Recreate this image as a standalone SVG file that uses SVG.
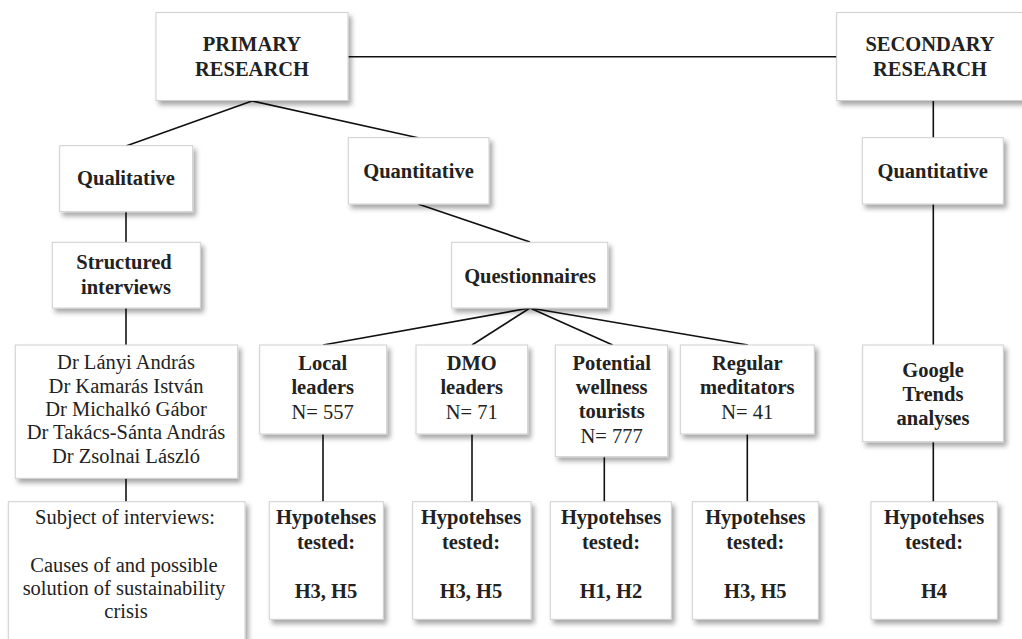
<svg xmlns="http://www.w3.org/2000/svg" width="1022" height="639" viewBox="0 0 1022 639" font-family="Liberation Serif, Times New Roman, serif">
<defs>
<filter id="sh" x="-10%" y="-10%" width="130%" height="140%">
<feDropShadow dx="3" dy="4" stdDeviation="2.5" flood-color="#000" flood-opacity="0.35"/>
</filter>
<style>
.box{fill:#fff;stroke:#cfcfcf;stroke-width:1;filter:url(#sh)}
text{font-size:20.5px;fill:#222;text-anchor:middle}
.b{font-weight:bold}
.c{stroke:#111;stroke-width:1.6;fill:none}
</style>
</defs>
<rect width="1022" height="639" fill="#fff"/>
<g id="connectors">
<line class="c" x1="348" y1="56.7" x2="837" y2="56.7"/>
<line class="c" x1="252" y1="101" x2="126" y2="146"/>
<line class="c" x1="252" y1="101" x2="419" y2="138"/>
<line class="c" x1="126" y1="212" x2="126" y2="242"/>
<line class="c" x1="126" y1="308" x2="126" y2="345"/>
<line class="c" x1="126" y1="478" x2="126" y2="502"/>
<line class="c" x1="418" y1="204" x2="530" y2="242"/>
<line class="c" x1="530" y1="308" x2="323" y2="345"/>
<line class="c" x1="530" y1="308" x2="472" y2="345"/>
<line class="c" x1="530" y1="308" x2="612.7" y2="345"/>
<line class="c" x1="530" y1="308" x2="748" y2="345"/>
<line class="c" x1="323" y1="434" x2="323" y2="502"/>
<line class="c" x1="472" y1="434" x2="472" y2="502"/>
<line class="c" x1="604.3" y1="456" x2="604.3" y2="502"/>
<line class="c" x1="747.3" y1="434" x2="747.3" y2="502"/>
<line class="c" x1="933.3" y1="101" x2="933.3" y2="138"/>
<line class="c" x1="933.3" y1="204" x2="933.3" y2="345"/>
<line class="c" x1="933.3" y1="441.7" x2="933.3" y2="502"/>
</g>
<g id="primary">
<rect class="box" x="156" y="12.5" width="192" height="88"/>
<text class="b" x="252" y="51">PRIMARY</text>
<text class="b" x="252" y="76">RESEARCH</text>
</g>
<g id="secondary">
<rect class="box" x="836.7" y="12.5" width="190" height="88"/>
<text class="b" x="930" y="51">SECONDARY</text>
<text class="b" x="930" y="76">RESEARCH</text>
</g>
<g id="qualitative">
<rect class="box" x="59.7" y="145.7" width="133" height="66"/>
<text class="b" x="126" y="185">Qualitative</text>
</g>
<g id="quantitative-primary">
<rect class="box" x="348.3" y="137.7" width="140.7" height="66.3"/>
<text class="b" x="418.5" y="178">Quantitative</text>
</g>
<g id="quantitative-secondary">
<rect class="box" x="862.3" y="137.7" width="141" height="66.3"/>
<text class="b" x="932.7" y="178">Quantitative</text>
</g>
<g id="structured-interviews">
<rect class="box" x="52.3" y="242.3" width="148" height="65.7"/>
<text class="b" x="124" y="269.3">Structured</text>
<text class="b" x="126" y="294.3">interviews</text>
</g>
<g id="questionnaires">
<rect class="box" x="451.7" y="242.3" width="156" height="65.7"/>
<text class="b" x="530" y="282.7">Questionnaires</text>
</g>
<g id="experts">
<rect class="box" x="15.3" y="345" width="222.4" height="133.3"/>
<text x="126" y="369.3">Dr Lányi András</text>
<text x="126" y="392.7">Dr Kamarás István</text>
<text x="126" y="416">Dr Michalkó Gábor</text>
<text x="126" y="439.3">Dr Takács-Sánta András</text>
<text x="126" y="462.7">Dr Zsolnai László</text>
</g>
<g id="subject">
<rect class="box" x="8.3" y="501.7" width="236.7" height="150"/>
<text x="125" y="524.3">Subject of interviews:</text>
<text x="124" y="571.7">Causes of and possible</text>
<text x="124" y="595">solution of sustainability</text>
<text x="126" y="618.3">crisis</text>
</g>
<g id="local-leaders">
<rect class="box" x="259.7" y="345" width="127" height="89"/>
<text class="b" x="322.7" y="370">Local</text>
<text class="b" x="322.7" y="394">leaders</text>
<text x="322.7" y="419.3">N= 557</text>
</g>
<g id="dmo-leaders">
<rect class="box" x="416" y="345" width="111.7" height="89"/>
<text class="b" x="471.7" y="370">DMO</text>
<text class="b" x="471.7" y="394">leaders</text>
<text x="471.7" y="419.3">N= 71</text>
</g>
<g id="potential-wellness-tourists">
<rect class="box" x="555.3" y="345" width="112.4" height="111.7"/>
<text class="b" x="611.7" y="370">Potential</text>
<text class="b" x="611.7" y="394">wellness</text>
<text class="b" x="611.7" y="418.3">tourists</text>
<text x="611.7" y="443.3">N= 777</text>
</g>
<g id="regular-meditators">
<rect class="box" x="680.3" y="345" width="134" height="89"/>
<text class="b" x="747.3" y="370">Regular</text>
<text class="b" x="747.3" y="394">meditators</text>
<text x="747.3" y="419.3">N= 41</text>
</g>
<g id="google-trends">
<rect class="box" x="862.7" y="345" width="140.6" height="96.7"/>
<text class="b" x="933" y="376.7">Google</text>
<text class="b" x="933" y="400.7">Trends</text>
<text class="b" x="933" y="425">analyses</text>
</g>
<g id="hyp-local">
<rect class="box" x="269.3" y="501.7" width="114" height="117.6"/>
<text class="b" x="326" y="524.3">Hypotehses</text>
<text class="b" x="326" y="549">tested:</text>
<text class="b" x="326" y="598.3">H3, H5</text>
</g>
<g id="hyp-dmo">
<rect class="box" x="412.7" y="501.7" width="118.3" height="117.6"/>
<text class="b" x="471" y="524.3">Hypotehses</text>
<text class="b" x="471" y="549">tested:</text>
<text class="b" x="471" y="598.3">H3, H5</text>
</g>
<g id="hyp-potential">
<rect class="box" x="550.3" y="501.7" width="121" height="117.6"/>
<text class="b" x="611" y="524.3">Hypotehses</text>
<text class="b" x="611" y="549">tested:</text>
<text class="b" x="611" y="598.3">H1, H2</text>
</g>
<g id="hyp-regular">
<rect class="box" x="692.3" y="501.7" width="126" height="117.6"/>
<text class="b" x="755.3" y="524.3">Hypotehses</text>
<text class="b" x="755.3" y="549">tested:</text>
<text class="b" x="755.3" y="598.3">H3, H5</text>
</g>
<g id="hyp-google">
<rect class="box" x="871" y="501.7" width="126.3" height="117.6"/>
<text class="b" x="934" y="524.3">Hypotehses</text>
<text class="b" x="934" y="549">tested:</text>
<text class="b" x="934" y="598.3">H4</text>
</g>
</svg>
